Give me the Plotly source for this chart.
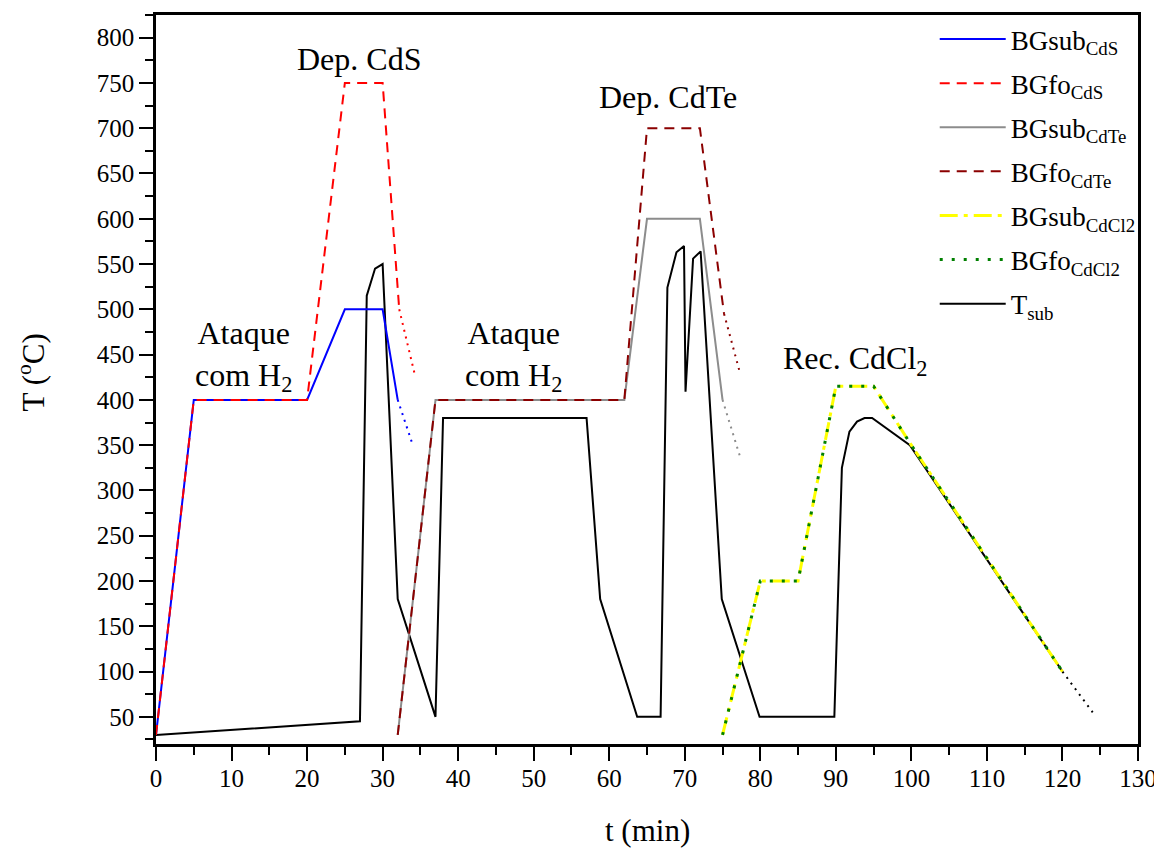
import plotly.graph_objects as go

# ---------------- data ----------------
bgsub_cds_t = [0, 5, 20, 25, 30, 32]
bgsub_cds_T = [30, 400, 400, 500, 500, 400]
bgsub_cds_ext_t = [32, 34]
bgsub_cds_ext_T = [400, 350]

bgfo_cds_t = [0, 5, 20, 25, 30, 32.2]
bgfo_cds_T = [30, 400, 400, 750, 750, 500]
bgfo_cds_ext_t = [32.2, 34.2]
bgfo_cds_ext_T = [500, 430]

bgsub_cdte_t = [32, 37, 62, 65, 72, 75]
bgsub_cdte_T = [30, 400, 400, 600, 600, 400]
bgsub_cdte_ext_t = [75, 77.4]
bgsub_cdte_ext_T = [400, 335]

bgfo_cdte_t = [32, 37, 62, 65, 72, 75.2]
bgfo_cdte_T = [30, 400, 400, 700, 700, 495]
bgfo_cdte_ext_t = [75.2, 77.3]
bgfo_cdte_ext_T = [495, 430]

cdcl2_t = [75, 80, 85, 90, 95, 100, 120]
bgsub_cdcl2_T = [30, 200, 200, 415, 415, 350, 100]
bgfo_cdcl2_T = [30, 200, 200, 415, 415, 350, 100]

tsub_t = [0, 27, 27.9, 29, 30, 32, 37, 38, 57, 58.8, 63.7, 66.8, 67.7, 68.9, 69.9,
          70.1, 71.1, 72.1, 74.9, 79.9, 89.8, 90.8, 91.8, 92.8, 93.8, 94.8, 99.8, 120]
tsub_T = [30, 45, 515, 545, 550, 180, 50, 380, 380, 180, 50, 50, 524, 563, 570,
          409, 556, 564, 180, 50, 50, 325, 365, 376, 380, 380, 350, 100]
tsub_ext_t = [120, 124]
tsub_ext_T = [100, 55]

annot_text = ["Dep. CdS", "Ataque<br>com H<sub>2</sub>", "Ataque<br>com H<sub>2</sub>",
              "Dep. CdTe", "Rec. CdCl<sub>2</sub>"]
annot_x = [26.9, 11.6, 47.3, 67.8, 92.6]
annot_y = [776, 449, 449, 735, 443]

x_ticks = list(range(0, 131, 10))
y_ticks = list(range(50, 801, 50))

FONT = "Liberation Serif"

fig = go.Figure()

def add(x, y, name, color, dash, width=2, show=True, rank=1, group=None):
    fig.add_trace(go.Scatter(
        x=x, y=y, mode="lines", name=name, showlegend=show,
        legendrank=rank, legendgroup=group,
        line=dict(color=color, dash=dash, width=width),
        hoverinfo="skip"))

DOT = "2px,5px"
# T_sub drawn first (below), listed last in legend
add(tsub_t, tsub_T, "T<sub>sub</sub>", "black", "solid", 2, True, 7, "g7")
add(tsub_ext_t, tsub_ext_T, "", "black", DOT, 2, False, 7, "g7")

add(bgsub_cds_t, bgsub_cds_T, "BGsub<sub>CdS</sub>", "#0000FF", "solid", 2, True, 1, "g1")
add(bgsub_cds_ext_t, bgsub_cds_ext_T, "", "#0000FF", DOT, 2, False, 1, "g1")
add(bgfo_cds_t, bgfo_cds_T, "BGfo<sub>CdS</sub>", "#FF0000", "10px,7px", 2, True, 2, "g2")
add(bgfo_cds_ext_t, bgfo_cds_ext_T, "", "#FF0000", DOT, 2, False, 2, "g2")

add(bgsub_cdte_t, bgsub_cdte_T, "BGsub<sub>CdTe</sub>", "#8C8C8C", "solid", 2, True, 3, "g3")
add(bgsub_cdte_ext_t, bgsub_cdte_ext_T, "", "#8C8C8C", DOT, 2, False, 3, "g3")
add(bgfo_cdte_t, bgfo_cdte_T, "BGfo<sub>CdTe</sub>", "#8B0000", "10px,7px", 2, True, 4, "g4")
add(bgfo_cdte_ext_t, bgfo_cdte_ext_T, "", "#8B0000", DOT, 2, False, 4, "g4")

add(cdcl2_t, bgsub_cdcl2_T, "BGsub<sub>CdCl2</sub>", "#FFFF00", "18px,6px,4px,6px", 3, True, 5, "g5")
add(cdcl2_t, bgfo_cdcl2_T, "BGfo<sub>CdCl2</sub>", "#008000", "3px,9px", 3, True, 6, "g6")

for t, x, y in zip(annot_text, annot_x, annot_y):
    fig.add_annotation(x=x, y=y, text=t, showarrow=False, xanchor="center",
                       yanchor="middle", font=dict(family=FONT, size=32, color="black"))

# axis titles placed as paper annotations
fig.add_annotation(text="t (min)", xref="paper", yref="paper", x=0.5, y=-0.119,
                   xanchor="center", yanchor="middle", showarrow=False,
                   font=dict(family=FONT, size=31, color="black"))
fig.add_annotation(text="T (<sup>o</sup>C)", xref="paper", yref="paper", x=-0.127, y=0.51,
                   xanchor="center", yanchor="middle", textangle=-90, showarrow=False,
                   font=dict(family=FONT, size=31, color="black"))

axis_common = dict(
    showline=True, linecolor="black", linewidth=2.5, mirror=True,
    ticks="outside", ticklen=14, tickwidth=2, tickcolor="black",
    showgrid=False, zeroline=False, automargin=False,
    ticklabeloverflow="allow",
    tickfont=dict(family=FONT, size=25, color="black"),
)

fig.update_xaxes(range=[0, 130], tickvals=x_ticks,
                 minor=dict(ticks="outside", ticklen=8, tickwidth=2, tickcolor="black", dtick=5, tick0=0),
                 ticklabelstandoff=-4, **axis_common)
fig.update_yaxes(range=[20, 825], tickvals=y_ticks,
                 minor=dict(ticks="outside", ticklen=8, tickwidth=2, tickcolor="black", dtick=25, tick0=0),
                 ticklabelstandoff=0, **axis_common)

fig.update_layout(
    width=1154, height=840,
    margin=dict(l=148, r=24, t=7, b=104),
    plot_bgcolor="white", paper_bgcolor="white",
    font=dict(family=FONT, color="black"),
    showlegend=True,
    legend=dict(x=0.793, y=1.0, xanchor="left", yanchor="top",
                bgcolor="rgba(0,0,0,0)", borderwidth=0,
                font=dict(family=FONT, size=27, color="black"),
                itemwidth=66, tracegroupgap=6, traceorder="grouped"),
)

fig.write_html("out.html")
